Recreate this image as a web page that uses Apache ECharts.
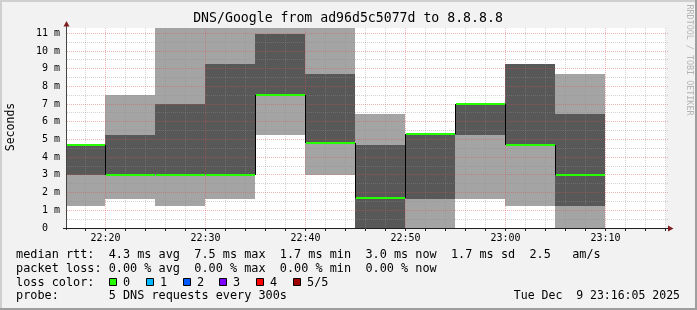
<!DOCTYPE html>
<html><head><meta charset="utf-8">
<script src="https://cdn.jsdelivr.net/npm/echarts@6/dist/echarts.min.js"></script>
<style>html,body{margin:0;padding:0;background:#f2f2f2}#c{width:697px;height:310px}</style>
</head><body><div id="c"></div>
<script>
// ---------- data ----------
const titleText = 'DNS/Google from ad96d5c5077d to 8.8.8.8';
const timeStart = '22:16:05';
const timeEnd = '23:16:05';
const blockStarts = ['22:15','22:20','22:25','22:30','22:35','22:40','22:45','22:50','22:55','23:00','23:05'];
const blockEnds   = ['22:20','22:25','22:30','22:35','22:40','22:45','22:50','22:55','23:00','23:05','23:10'];
// sorted ping times per 5-minute step (ms): lowest, 2nd, median, 4th, highest
const pingLow  = [1.27, 1.65, 1.27, 1.65, 5.25, 3.0,  0,    0,    1.65, 1.27, 0   ];
const ping2    = [2.97, 3.0,  3.0,  3.0,  7.52, 4.8,  0,    1.65, 5.25, 4.7,  1.27];
const median   = [4.7,  3.0,  3.0,  3.0,  7.52, 4.8,  1.7,  5.3,  7.0,  4.7,  3.0 ];
const ping4    = [4.7,  5.25, 7.0,  9.27, 10.96,8.7,  4.7,  5.3,  7.0,  9.27, 6.45];
const pingHigh = [4.7,  7.52, 11.8, 11.8, 11.8, 11.8, 6.45, 5.3,  7.0,  9.27, 8.7 ];
const xLabels = ['22:20','22:30','22:40','22:50','23:00','23:10'];
const yMax = 11.3;
const yLabelValues = [0,1,2,3,4,5,6,7,8,9,10,11];
const lossLabels = ['0','1','2','3','4','5/5'];
const lossColors = ['#26ff00','#00b8ff','#0059ff','#7e00ff','#ff0000','#a10000'];
const legendLines = [
  'median rtt:  4.3 ms avg  7.5 ms max  1.7 ms min  3.0 ms now  1.7 ms sd  2.5   am/s',
  'packet loss: 0.00 % avg  0.00 % max  0.00 % min  0.00 % now',
  'loss color:',
  'probe:       5 DNS requests every 300s'
];
const stampText = 'Tue Dec  9 23:16:05 2025';

// ---------- helpers ----------
const T = s => { const p = s.split(':').map(Number); return (p[0]-22)*60 + p[1] + (p[2]||0)/60; };
const xMin = T(timeStart), xMax = T(timeEnd);
const MONO = '"DejaVu Sans Mono", monospace';
const LIGHT = '#a4a4a4', DARK = '#585858';

const smokeData = blockStarts.map((s,i)=>[T(s), T(blockEnds[i]), pingLow[i], ping2[i], ping4[i], pingHigh[i]]);
const medData = blockStarts.map((s,i)=>[T(s), T(blockEnds[i]), median[i], i>0?median[i-1]:median[i]]);

// grid lines: [kind(0=vertical,1=horizontal), value, major]
const gridData = [];
for (let m = 18; m <= 76; m += 2) {
  const isMajor = xLabels.some(l => Math.abs(T(l)-m) < 1e-6);
  gridData.push([0, m, isMajor?1:0]);
}
for (let v = 0.5; v <= 11.01; v += 0.5) gridData.push([1, v, Number.isInteger(v)?1:0]);
const xTickData = [];
for (let m = 18; m <= 76; m += 2) xTickData.push([m, 0]);

const chart = echarts.init(document.getElementById('c'));
const Yr = (api, v) => Math.round(api.coord([xMin, v])[1]);
const Xr = (api, t) => Math.round(api.coord([t, 0])[0]);

const graphic = [
  {type:'rect', shape:{x:0,y:0,width:697,height:2}, style:{fill:'#cfcfcf'}},
  {type:'rect', shape:{x:0,y:0,width:2,height:310}, style:{fill:'#cfcfcf'}},
  {type:'rect', shape:{x:695,y:0,width:2,height:310}, style:{fill:'#9e9e9e'}},
  {type:'rect', shape:{x:0,y:308,width:697,height:2}, style:{fill:'#9e9e9e'}},
  {type:'text', x:348, y:18.5, style:{text:titleText, font:'13.2px '+MONO, fill:'#000', align:'center', verticalAlign:'middle'}},
  {type:'text', x:11, y:127, rotation:Math.PI/2, style:{text:'Seconds', font:'11.5px '+MONO, fill:'#000', align:'center', verticalAlign:'middle'}},
  {type:'text', x:689, y:60, rotation:-Math.PI/2, style:{text:'RRDTOOL / TOBI OETIKER', font:'8.4px '+MONO, fill:'#b4b4b4', align:'center', verticalAlign:'middle'}},
  {type:'line', z:10, shape:{x1:66.5,y1:230,x2:66.5,y2:26}, style:{stroke:'#444', lineWidth:1}},
  {type:'line', z:10, shape:{x1:63,y1:228.5,x2:668,y2:228.5}, style:{stroke:'#1f1f1f', lineWidth:1}},
  {type:'polygon', z:10, shape:{points:[[63.5,26.5],[69.5,26.5],[66.5,21]]}, style:{fill:'#801f1f'}},
  {type:'polygon', z:10, shape:{points:[[668,225.5],[668,231.5],[673.5,228.5]]}, style:{fill:'#801f1f'}},
  {type:'text', x:680, y:296, style:{text:stampText, font:'11.5px '+MONO, fill:'#000', align:'right', verticalAlign:'middle'}}
];
const lineY = [255, 268.7, 282.5, 296];
legendLines.forEach((t,i)=>graphic.push({type:'text', x:16, y:lineY[i], style:{text:t, font:'11.85px '+MONO, fill:'#000', align:'left', verticalAlign:'middle'}}));
lossLabels.forEach((t,i)=>{
  const bx = 109 + i*36.8;
  graphic.push({type:'rect', shape:{x:Math.round(bx)+0.5, y:278.5, width:7, height:7}, style:{fill:lossColors[i], stroke:'#000', lineWidth:1}});
  graphic.push({type:'text', x:Math.round(bx)+14, y:282.5, style:{text:t, font:'11.85px '+MONO, fill:'#000', align:'left', verticalAlign:'middle'}});
});

chart.setOption({
  animation:false,
  backgroundColor:'#f2f2f2',
  grid:{left:66, top:28, width:600, height:200, show:true, backgroundColor:'#ffffff', borderWidth:0, containLabel:false},
  xAxis:{type:'value', min:xMin, max:xMax, show:true, axisLine:{show:false}, axisTick:{show:false}, axisLabel:{show:false}, splitLine:{show:false}},
  yAxis:{type:'value', min:0, max:yMax, interval:1,
    axisLine:{show:false}, axisTick:{show:false}, splitLine:{show:false},
    axisLabel:{margin:6, color:'#000', fontFamily:'DejaVu Sans Mono', fontSize:10,
      formatter:v=> yLabelValues.indexOf(v) < 0 ? '' : (v===0 ? '0  ' : v+' m')}},
  graphic: graphic,
  series:[
    {type:'custom', name:'smoke', z:2, clip:true, silent:true, data:smokeData,
     renderItem:(params, api)=>{
       const x0 = Xr(api, api.value(0)), x1 = Xr(api, api.value(1));
       const y1 = Yr(api, api.value(2)), y2 = Yr(api, api.value(3)), y4 = Yr(api, api.value(4)), y5 = Yr(api, api.value(5));
       return {type:'group', children:[
         {type:'rect', shape:{x:x0, y:y5, width:x1-x0, height:y1-y5}, style:{fill:LIGHT}},
         {type:'rect', shape:{x:x0, y:y4, width:x1-x0, height:y2-y4}, style:{fill:DARK}}
       ]};
     }},
    {type:'custom', name:'grid', z:3, clip:false, silent:true, data:gridData,
     renderItem:(params, api)=>{
       const kind = api.value(0), v = api.value(1), major = api.value(2);
       const cs = params.coordSys;
       const color = major ? 'rgba(222,79,79,0.42)' : 'rgba(143,143,143,0.4)';
       let shape;
       if (kind === 0) { const x = Math.floor(api.coord([v,0])[0]) + 0.5; shape = {x1:x, y1:cs.y, x2:x, y2:cs.y+cs.height}; }
       else { const y = Math.floor(api.coord([xMin,v])[1]) + 0.5; shape = {x1:cs.x+1, y1:y, x2:cs.x+cs.width+2, y2:y}; }
       return {type:'line', shape:shape, style:{stroke:color, lineWidth:1, lineDash:[1,1]}};
     }},
    {type:'custom', name:'medianStep', z:4, clip:true, silent:true, data:medData,
     renderItem:(params, api)=>{
       const x0 = Xr(api, api.value(0));
       const ym = api.coord([xMin, api.value(2)])[1], yp = api.coord([xMin, api.value(3)])[1];
       return {type:'line', shape:{x1:x0+0.5, y1:Math.round(yp), x2:x0+0.5, y2:Math.round(ym)}, style:{stroke:'#000', lineWidth:1}};
     }},
    {type:'custom', name:'median', z:5, clip:true, silent:true, data:medData,
     renderItem:(params, api)=>{
       const x0 = Xr(api, api.value(0)), x1 = Xr(api, api.value(1));
       const ym = Math.round(api.coord([xMin, api.value(2)])[1]);
       return {type:'rect', shape:{x:x0+1, y:ym-1, width:x1-x0-1, height:2}, style:{fill:lossColors[0]}};
     }},
    {type:'custom', name:'xticks', z:6, clip:false, silent:true, data:xTickData,
     renderItem:(params, api)=>{
       const x = Math.floor(api.coord([api.value(0),0])[0]) + 0.5;
       return {type:'line', shape:{x1:x, y1:229, x2:x, y2:231}, style:{stroke:'#1f1f1f', lineWidth:1}};
     }},
    {type:'custom', name:'xlabels', z:6, clip:false, silent:true, data:xLabels.map(l=>[T(l),0]),
     renderItem:(params, api)=>{
       const x = Math.floor(api.coord([api.value(0),0])[0]) + 0.5;
       return {type:'text', x:x, y:238, style:{text:xLabels[params.dataIndex], font:'10px '+MONO, fill:'#000', align:'center', verticalAlign:'middle'}};
     }}
  ]
});
</script></body></html>
